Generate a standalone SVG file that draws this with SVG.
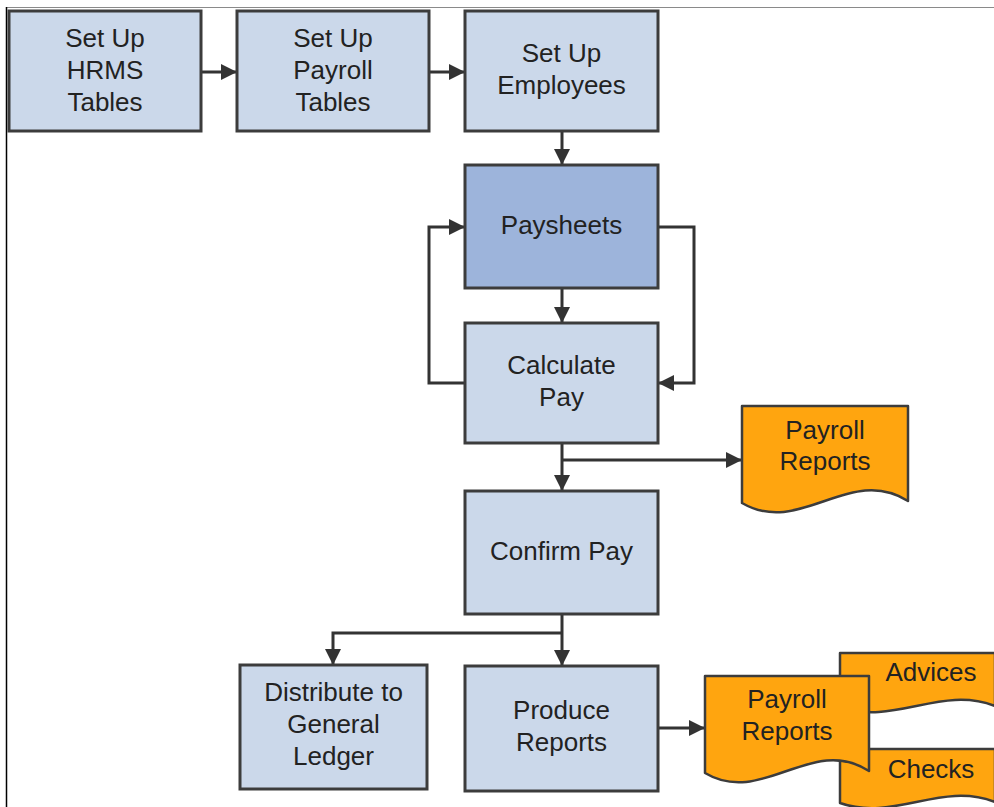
<svg xmlns="http://www.w3.org/2000/svg" width="994" height="807" viewBox="0 0 994 807">
<style>
.box{fill:#cbd8ea;stroke:#3c3c3c;stroke-width:3}
.dark{fill:#9db4db}
.doc{fill:#ffa50f;stroke:#3c3c3c;stroke-width:2.5;stroke-linejoin:round}
.t{font-family:"Liberation Sans",Arial,sans-serif;font-size:26px;fill:#222;text-anchor:middle}
.c{fill:none;stroke:#333;stroke-width:3;marker-end:url(#ah)}
</style>
<defs>
<marker id="ah" markerUnits="userSpaceOnUse" markerWidth="17" markerHeight="17" refX="16" refY="8" orient="auto">
<path d="M0,0 L16,8 L0,16 Z" fill="#333"/>
</marker>
</defs>
<rect width="994" height="807" fill="#fff"/>
<line x1="6" y1="7.5" x2="994" y2="7.5" stroke="#8a8a8a" stroke-width="1"/>
<line x1="6.5" y1="7" x2="6.5" y2="807" stroke="#000" stroke-width="1.5"/>

<g id="connectors">
<path class="c" d="M202,72 H237"/>
<path class="c" d="M429,72 H465"/>
<path class="c" d="M562,131 V165"/>
<path class="c" d="M562,288 V323"/>
<path class="c" d="M465,383 H429 V227 H465"/>
<path class="c" d="M658,227 H694 V383 H658"/>
<path class="c" d="M562,443 V491"/>
<path class="c" d="M562,460 H742"/>
<path class="c" d="M562,614 V666"/>
<path class="c" d="M562,633 H333 V665"/>
<path class="c" d="M658,728 H705"/>
</g>

<g id="n1"><rect class="box" x="9" y="11" width="192" height="120"/>
<text class="t" x="105" y="47">Set Up</text><text class="t" x="105" y="79">HRMS</text><text class="t" x="105" y="111">Tables</text></g>
<g id="n2"><rect class="box" x="237" y="11" width="192" height="120"/>
<text class="t" x="333" y="47">Set Up</text><text class="t" x="333" y="79">Payroll</text><text class="t" x="333" y="111">Tables</text></g>
<g id="n3"><rect class="box" x="465" y="11" width="193" height="120"/>
<text class="t" x="561.5" y="62">Set Up</text><text class="t" x="561.5" y="94">Employees</text></g>
<g id="n4"><rect class="box dark" x="465" y="165" width="193" height="123"/>
<text class="t" x="561.5" y="234">Paysheets</text></g>
<g id="n5"><rect class="box" x="465" y="323" width="193" height="120"/>
<text class="t" x="561.5" y="374">Calculate</text><text class="t" x="561.5" y="406">Pay</text></g>
<g id="n6"><path class="doc" d="M742,406 H908 V501 C 850,464 800,537 742,503 Z"/>
<text class="t" x="825" y="439">Payroll</text><text class="t" x="825" y="470">Reports</text></g>
<g id="n7"><rect class="box" x="465" y="491" width="193" height="123"/>
<text class="t" x="561.5" y="560">Confirm Pay</text></g>
<g id="n8"><rect class="box" x="240" y="665" width="187" height="124"/>
<text class="t" x="333.5" y="701">Distribute to</text><text class="t" x="333.5" y="733">General</text><text class="t" x="333.5" y="765">Ledger</text></g>
<g id="n9"><rect class="box" x="465" y="666" width="193" height="125"/>
<text class="t" x="561.5" y="719">Produce</text><text class="t" x="561.5" y="751">Reports</text></g>
<g id="n10"><path class="doc" d="M840,653 H995 V706 C 941,685 894,726 840,707 Z"/>
<text class="t" x="931" y="681">Advices</text></g>
<g id="n11"><path class="doc" d="M840,749 H995 V802 C 941,781 894,822 840,803 Z"/>
<text class="t" x="931" y="778">Checks</text></g>
<g id="n12"><path class="doc" d="M705,676 H869 V771 C 812,734 762,807 705,773 Z"/>
<text class="t" x="787" y="708">Payroll</text><text class="t" x="787" y="740">Reports</text></g>
</svg>
